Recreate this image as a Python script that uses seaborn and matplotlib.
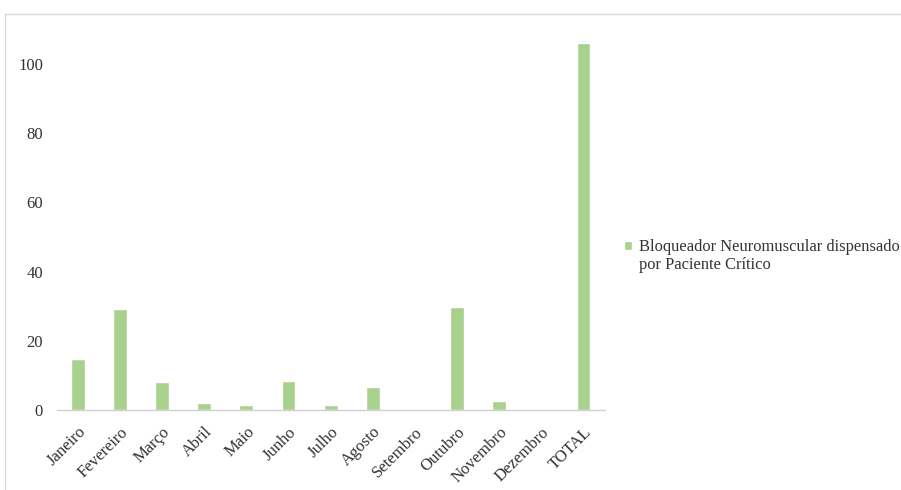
import matplotlib
matplotlib.use("Agg")
import matplotlib.pyplot as plt
import matplotlib.patches as mpatches
import seaborn as sns
import pandas as pd

months = ["Janeiro", "Fevereiro", "Março", "Abril", "Maio", "Junho", "Julho",
          "Agosto", "Setembro", "Outubro", "Novembro", "Dezembro", "TOTAL"]
values = [14.8, 29.3, 8.1, 2.0, 1.4, 8.4, 1.6, 6.8, 0.0, 29.9, 2.6, 0.0, 106.0]
series_name = "Bloqueador Neuromuscular dispensado\npor Paciente Crítico"
y_ticks = [0, 20, 40, 60, 80, 100]

sns.set_theme(style="white")
plt.rcParams["font.family"] = ["Liberation Serif", "DejaVu Serif"]

df = pd.DataFrame({"mes": months, "valor": values, "serie": series_name})

fig = plt.figure(figsize=(9.01, 4.90), dpi=100)
ax = fig.add_axes([0.063, 0.163, 0.608, 0.778])

sns.barplot(data=df, x="mes", y="valor", hue="serie", ax=ax,
            palette=["#a9d18e"], width=0.33, saturation=1, dodge=False)

ax.set_xlim(-0.5, len(months) - 0.5)
ax.set_ylim(0, 110)
ax.set_yticks(y_ticks)
ax.set_xlabel("")
ax.set_ylabel("")
for s in ["top", "right", "left"]:
    ax.spines[s].set_visible(False)
ax.spines["bottom"].set_color("#d0d0d0")
ax.spines["bottom"].set_linewidth(1.0)
ax.tick_params(axis="both", length=0, labelsize=12, colors="#333333")
ax.tick_params(axis="y", pad=10)
ax.tick_params(axis="x", pad=10)
plt.setp(ax.get_xticklabels(), rotation=45, ha="right", rotation_mode="anchor")

leg = ax.legend(loc="center left", bbox_to_anchor=(1.0085, 0.405), frameon=False,
                fontsize=11.9, handlelength=0.45, handleheight=0.45,
                handletextpad=0.45, labelcolor="#333333")
# keep the legend swatch level with the first line of the label
for h in leg.legend_handles:
    h.set_y(h.get_y() + 7.5)

# outer chart frame
fig.patches.append(mpatches.Rectangle((5 / 901, -0.05), 1.1, 1 - 14 / 490 + 0.05,
                                      transform=fig.transFigure, fill=False,
                                      edgecolor="#d9d9d9", linewidth=1.0))

fig.savefig("out.png", dpi=100)
